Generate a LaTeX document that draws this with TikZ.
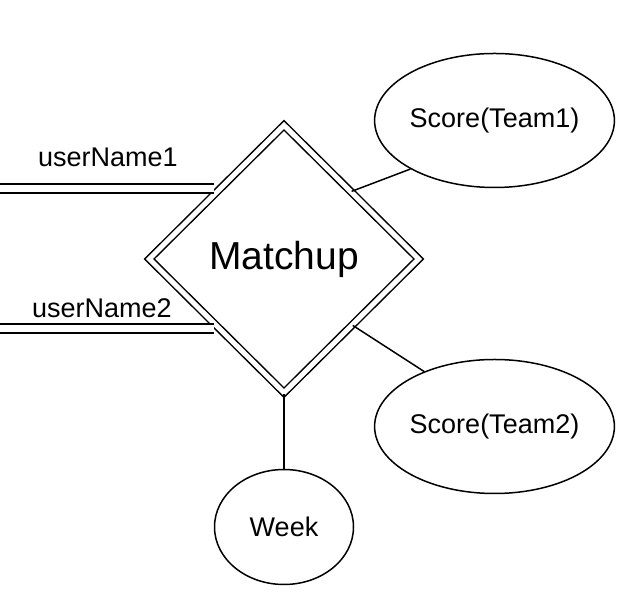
\documentclass[tikz,border=0pt]{standalone}
\usepackage{fontspec}
\setmainfont{Liberation Sans}
\usetikzlibrary{shapes.geometric}
\tikzstyle{relation} = [diamond, minimum width=270pt, minimum height=268pt, inner sep=0pt, draw=black, line width=1.5pt, double, double distance=5pt, font=\fontsize{39}{46}\selectfont]
\tikzstyle{attribute} = [ellipse, minimum width=233pt, minimum height=134pt, inner sep=0pt, draw=black, line width=1.5pt, font=\fontsize{27}{32}\selectfont]
\tikzstyle{tag} = [inner sep=0pt, font=\fontsize{27}{32}\selectfont]
\tikzstyle{link} = [line width=1.5pt]
\tikzstyle{doublelink} = [line width=1.5pt, double, double distance=7.5pt]

\begin{document}
\begin{tikzpicture}[x=1pt,y=1pt]
\useasboundingbox (0,0) rectangle (626,612);
\node (rel) [relation] at (284,353) {Matchup};

\node (sc1) [attribute] at (494.5,491.5) {Score(Team1)};

\node (sc2) [attribute] at (494.5,185.5) {Score(Team2)};

\node (week) [attribute, minimum width=139pt, minimum height=115pt] at (284,85) {Week};

\node (un1) [tag] at (108,455) {userName1};
\node (un2) [tag] at (102,304) {userName2};

\coordinate (in1) at (0,423.5);
\coordinate (in2) at (0,283.5);

\draw [link] (rel.45) -- (sc1.210);
\draw [link] (rel.316) -- (sc2.142);
\draw [link] (rel.south) -- (week.north);
\draw [doublelink, shorten >=5pt] (in1) -- (in1 -| rel.133);
\draw [doublelink, shorten >=5pt] (in2) -- (in2 -| rel.227);
\end{tikzpicture}
\end{document}
